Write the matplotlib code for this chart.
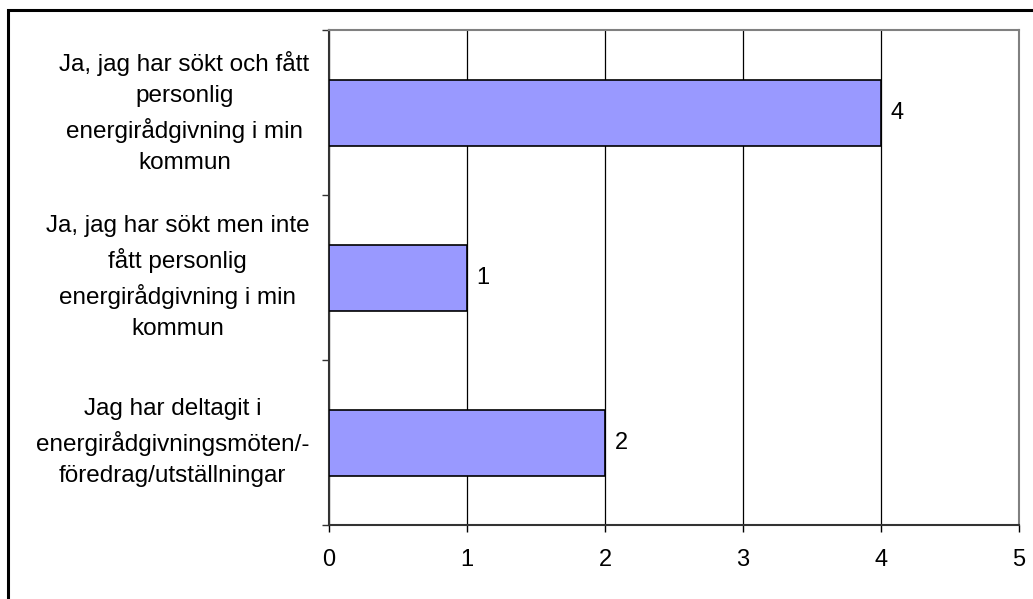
import matplotlib.pyplot as plt
import matplotlib.patches as mpatches
import matplotlib.transforms as mtransforms
import numpy as np

plt.rcParams['font.family'] = ['Liberation Sans', 'DejaVu Sans']

categories = [
    "Ja, jag har sökt och fått\npersonlig\nenergirådgivning i min\nkommun",
    "Ja, jag har sökt men inte\nfått personlig\nenergirådgivning i min\nkommun",
    "Jag har deltagit i\nenergirådgivningsmöten/-\nföredrag/utställningar",
]
values = [4, 1, 2]
xticks = [0, 1, 2, 3, 4, 5]

fig = plt.figure(figsize=(10.33, 5.99), dpi=100)
ax = fig.add_axes([329/1033, 1 - 525/599, (1019 - 329)/1033, (525 - 30)/599])

# outer frame of the chart, cut off at right/bottom
frame = mpatches.Rectangle((8/1033, -0.1), 1.2, 1 - 10/599 + 0.1, transform=fig.transFigure,
                           fill=False, edgecolor='black', linewidth=2.2, clip_on=False)
fig.patches.append(frame)

y = np.arange(len(categories))
ax.barh(y, values, height=0.4, color='#9999FF', edgecolor='black', linewidth=1.2, zorder=3)
for yi, v in zip(y, values):
    ax.text(v + 0.07, yi, str(v), va='center', ha='left', fontsize=17)

ax.set_xlim(0, 5)
ax.set_ylim(len(categories) - 0.5, -0.5)
ax.set_xticks(xticks)
ax.set_xticklabels([str(t) for t in xticks], fontsize=17)
ax.set_yticks(y)
ax.set_yticklabels(categories, fontsize=17.5, multialignment='center', linespacing=1.54)
ax.set_yticks(np.arange(-0.5, len(categories)), minor=True)

ax.tick_params(axis='y', which='major', length=0, pad=14)
ax.tick_params(axis='y', which='minor', length=5, width=1, color='#333333', direction='out')
ax.tick_params(axis='x', which='major', length=5, width=1, pad=12, direction='out')

# nudge category labels up a bit
shift = mtransforms.ScaledTranslation(0, 5/72, fig.dpi_scale_trans)
for lab in ax.get_yticklabels():
    lab.set_transform(lab.get_transform() + shift)

ax.grid(axis='x', color='black', linewidth=0.9, zorder=0)
ax.set_axisbelow(True)

for s in ['top', 'right']:
    ax.spines[s].set_color('#808080')
    ax.spines[s].set_linewidth(1.5)
for s in ['left', 'bottom']:
    ax.spines[s].set_color('#333333')
    ax.spines[s].set_linewidth(1.5)

fig.savefig('out.png', dpi=100)
